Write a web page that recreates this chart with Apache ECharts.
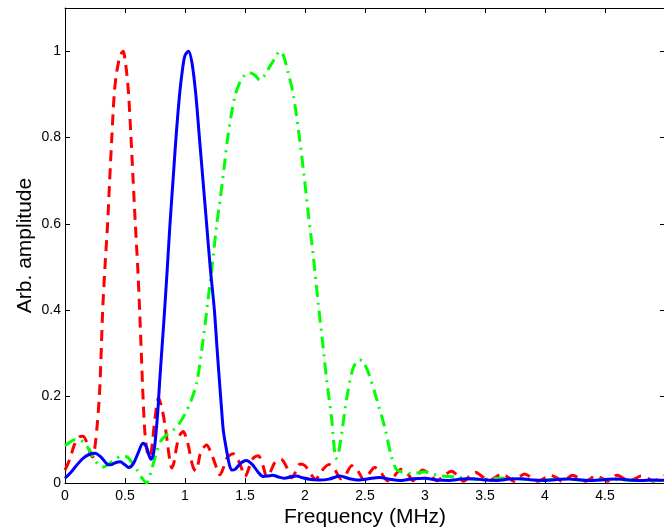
<!DOCTYPE html>
<html>
<head>
<meta charset="utf-8">
<script src="https://cdn.jsdelivr.net/npm/echarts@6/dist/echarts.min.js"></script>
<style>
html,body{margin:0;padding:0;background:#fff;}
#c{width:664px;height:529px;}
</style>
</head>
<body>
<div id="c"></div>
<script>
// ---- data ----
var xTickLabels = ['0','0.5','1','1.5','2','2.5','3','3.5','4','4.5'];
var yTickLabels = ['0','0.2','0.4','0.6','0.8','1'];

var blueX = [0,0.05,0.1,0.15,0.2,0.25,0.3,0.35,0.38,0.42,0.46,0.5,0.53,0.57,0.61,0.65,0.68,0.7,0.717,0.735,0.75,0.772,0.79,0.81,0.83,0.853,0.875,0.9,0.925,0.955,0.98,1.0,1.03,1.06,1.09,1.12,1.15,1.18,1.21,1.245,1.265,1.286,1.305,1.32,1.35,1.37,1.39,1.42,1.46,1.51,1.56,1.61,1.65,1.69,1.73,1.78,1.83,1.88,1.93,1.98,2.05,2.12,2.2,2.29,2.37,2.45,2.53,2.62,2.72,2.8,2.9,3.0,3.1,3.2,3.3,3.4,3.5,3.6,3.7,3.8,3.9,4.0,4.1,4.2,4.3,4.4,4.5,4.6,4.7,4.8,4.9,5.0];
var blueY = [0.011,0.025,0.042,0.057,0.066,0.069,0.06,0.044,0.042,0.047,0.049,0.042,0.036,0.045,0.07,0.092,0.083,0.064,0.055,0.065,0.092,0.16,0.24,0.32,0.4,0.5,0.6,0.7,0.8,0.9,0.96,0.99,1.0,0.97,0.9,0.8,0.7,0.6,0.5,0.4,0.32,0.24,0.17,0.12,0.07,0.042,0.03,0.032,0.045,0.052,0.043,0.025,0.015,0.016,0.018,0.014,0.011,0.014,0.016,0.012,0.008,0.007,0.009,0.016,0.01,0.007,0.01,0.013,0.008,0.006,0.01,0.011,0.007,0.006,0.009,0.01,0.007,0.006,0.009,0.01,0.007,0.006,0.008,0.009,0.007,0.006,0.008,0.009,0.007,0.006,0.007,0.006];

var redX = [0,0.04,0.08,0.12,0.15,0.18,0.21,0.23,0.25,0.27,0.29,0.314,0.333,0.355,0.372,0.39,0.41,0.43,0.46,0.486,0.5,0.514,0.53,0.55,0.568,0.586,0.606,0.622,0.636,0.65,0.665,0.68,0.7,0.72,0.75,0.78,0.81,0.83,0.855,0.875,0.89,0.91,0.93,0.955,0.985,1.01,1.03,1.05,1.07,1.09,1.11,1.13,1.18,1.21,1.24,1.27,1.29,1.32,1.35,1.4,1.44,1.47,1.5,1.54,1.57,1.61,1.65,1.68,1.71,1.75,1.8,1.85,1.89,1.92,1.96,2.0,2.05,2.09,2.13,2.2,2.25,2.3,2.34,2.39,2.44,2.49,2.53,2.58,2.63,2.69,2.74,2.8,2.86,2.9,2.94,2.98,3.04,3.1,3.15,3.22,3.28,3.32,3.37,3.42,3.48,3.53,3.58,3.64,3.7,3.74,3.78,3.83,3.89,3.94,3.99,4.04,4.1,4.14,4.18,4.23,4.29,4.34,4.38,4.42,4.48,4.52,4.56,4.6,4.66,4.7,4.75,4.8,4.86,4.9,4.95,5.0];
var redY = [0.03,0.055,0.09,0.107,0.108,0.095,0.07,0.06,0.085,0.14,0.22,0.4,0.5,0.6,0.7,0.8,0.9,0.95,0.99,1.0,0.98,0.95,0.9,0.8,0.7,0.6,0.5,0.4,0.3,0.2,0.12,0.08,0.06,0.075,0.15,0.197,0.17,0.14,0.09,0.05,0.035,0.05,0.084,0.11,0.119,0.105,0.084,0.055,0.035,0.028,0.045,0.07,0.088,0.075,0.053,0.03,0.019,0.035,0.058,0.068,0.055,0.035,0.015,0.04,0.058,0.063,0.04,0.015,0.025,0.048,0.055,0.035,0.012,0.025,0.044,0.04,0.02,0.008,0.025,0.043,0.03,0.01,0.02,0.04,0.028,0.008,0.02,0.036,0.025,0.005,0.015,0.032,0.02,0.005,0.018,0.03,0.02,0.005,0.015,0.027,0.015,0.004,0.015,0.025,0.014,0.004,0.012,0.021,0.012,0.004,0.013,0.021,0.012,0.004,0.01,0.018,0.012,0.004,0.01,0.018,0.01,0.004,0.01,0.017,0.01,0.004,0.011,0.018,0.01,0.004,0.01,0.016,0.01,0.004,0.01,0.017];

var greenX = [0,0.04,0.08,0.12,0.16,0.2,0.24,0.28,0.32,0.37,0.42,0.47,0.52,0.56,0.6,0.64,0.68,0.72,0.76,0.8,0.85,0.9,0.95,1.0,1.05,1.1,1.15,1.19,1.225,1.265,1.29,1.33,1.356,1.39,1.42,1.46,1.5,1.54,1.58,1.625,1.69,1.75,1.79,1.82,1.86,1.9,1.945,1.99,2.03,2.07,2.11,2.145,2.18,2.22,2.26,2.28,2.31,2.35,2.4,2.45,2.48,2.53,2.6,2.67,2.72,2.76,2.8,2.9,3.0,3.07,3.15,3.25,3.35,3.45,3.55,3.65,3.75,3.85,3.95,4.05,4.15,4.25,4.35,4.5,4.65,4.8,5.0];
var greenY = [0.087,0.094,0.1,0.1,0.092,0.078,0.058,0.042,0.037,0.045,0.055,0.062,0.06,0.047,0.03,0.012,0.0,0.03,0.068,0.098,0.112,0.122,0.137,0.16,0.19,0.235,0.33,0.42,0.5,0.6,0.65,0.74,0.8,0.86,0.9,0.93,0.945,0.95,0.945,0.933,0.957,0.984,1.0,0.99,0.95,0.903,0.818,0.717,0.617,0.524,0.416,0.33,0.24,0.154,0.057,0.07,0.123,0.2,0.265,0.285,0.283,0.254,0.192,0.123,0.061,0.032,0.026,0.022,0.026,0.02,0.016,0.014,0.01,0.008,0.01,0.011,0.01,0.008,0.006,0.008,0.009,0.008,0.006,0.008,0.007,0.006,0.006];

function pairs(xs, ys){ return xs.map(function(x,i){ return [x, ys[i]]; }); }

var FONT = 'Liberation Sans, Arial, Helvetica, sans-serif';
var chart = echarts.init(document.getElementById('c'), null, {renderer:'canvas'});

function axisLine(){ return {show:true, onZero:false, lineStyle:{color:'#000', width:1}}; }
function ticks(){ return {show:true, inside:true, length:5, lineStyle:{color:'#000', width:1}}; }

var option = {
  animation:false,
  backgroundColor:'#fff',
  grid:{left:65, top:8, width:600, height:475, containLabel:false, outerBoundsMode:'none'},
  xAxis:[
    {type:'value', position:'bottom', min:0, max:5, interval:0.5,
     axisLine:axisLine(), splitLine:{show:false}, axisTick:ticks(),
     axisLabel:{show:true, margin:6, color:'#000', fontFamily:FONT, fontSize:14,
       showMaxLabel:false,
       formatter:function(v){ var i = Math.round(v/0.5); return xTickLabels[i] !== undefined ? xTickLabels[i] : ''; }},
     name:'Frequency (MHz)', nameLocation:'middle', nameGap:24, nameMoveOverlap:false,
     nameTextStyle:{color:'#000', fontFamily:FONT, fontSize:21}},
    {type:'value', position:'top', min:0, max:5, interval:0.5,
     axisLine:axisLine(), splitLine:{show:false}, axisTick:ticks(),
     axisLabel:{show:false}}
  ],
  yAxis:[
    {type:'value', position:'left', min:0, max:1.1, interval:0.2,
     axisLine:axisLine(), splitLine:{show:false}, axisTick:ticks(),
     axisLabel:{show:true, margin:4, color:'#000', fontFamily:FONT, fontSize:14,
       showMaxLabel:false,
       formatter:function(v){ var i = Math.round(v/0.2); return (Math.abs(v - i*0.2) < 1e-6 && yTickLabels[i] !== undefined) ? yTickLabels[i] : ''; }},
     name:'Arb. amplitude', nameLocation:'middle', nameGap:29, nameMoveOverlap:false,
     nameTextStyle:{color:'#000', fontFamily:FONT, fontSize:21}},
    {type:'value', position:'right', min:0, max:1.1, interval:0.2,
     axisLine:axisLine(), splitLine:{show:false}, axisTick:ticks(),
     axisLabel:{show:false}}
  ],
  series:[
    {type:'line', name:'red', data:pairs(redX, redY), showSymbol:false, smooth:0.3,
     clip:true, lineStyle:{color:'#ff0000', width:3, type:[11,7]}},
    {type:'line', name:'green', data:pairs(greenX, greenY), showSymbol:false, smooth:0.3,
     clip:true, lineStyle:{color:'#00ff00', width:3, type:[12,6,2,6]}},
    {type:'line', name:'blue', data:pairs(blueX, blueY), showSymbol:false, smooth:0.3,
     clip:true, lineStyle:{color:'#0000ff', width:3, type:'solid'}}
  ]
};
chart.setOption(option);
</script>
</body>
</html>
